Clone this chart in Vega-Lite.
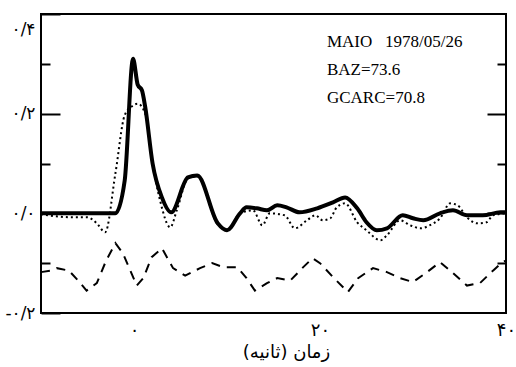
{
  "$schema": "https://vega.github.io/schema/vega-lite/v6.json",
  "width": 465,
  "height": 299,
  "autosize": "none",
  "padding": {"left": 41, "top": 14, "right": 10, "bottom": 54},
  "background": "white",
  "config": {
    "view": {"stroke": "black", "strokeWidth": 2},
    "font": "DejaVu Sans",
    "axis": {"domain": false, "grid": false, "tickColor": "black", "tickWidth": 2, "labelColor": "black", "titleColor": "black"}
  },
  "datasets": {
    "traces": [
      {"s": "solid", "t": -10, "v": 0}, {"s": "solid", "t": -2.0, "v": 0}, {"s": "solid", "t": -1.0, "v": 0.066},
      {"s": "solid", "t": -0.1, "v": 0.31}, {"s": "solid", "t": 0.4, "v": 0.258}, {"s": "solid", "t": 0.85, "v": 0.247},
      {"s": "solid", "t": 1.2, "v": 0.214}, {"s": "solid", "t": 2.0, "v": 0.10}, {"s": "solid", "t": 3.0, "v": 0.032},
      {"s": "solid", "t": 4.0, "v": 0.002}, {"s": "solid", "t": 5.8, "v": 0.072}, {"s": "solid", "t": 6.8, "v": 0.076},
      {"s": "solid", "t": 9.0, "v": -0.02}, {"s": "solid", "t": 10.0, "v": -0.034}, {"s": "solid", "t": 11.4, "v": 0.0},
      {"s": "solid", "t": 12.1, "v": 0.012}, {"s": "solid", "t": 13.2, "v": 0.01}, {"s": "solid", "t": 14.3, "v": 0.006},
      {"s": "solid", "t": 15.4, "v": 0.016}, {"s": "solid", "t": 16.4, "v": 0.012}, {"s": "solid", "t": 17.8, "v": 0.002},
      {"s": "solid", "t": 19.7, "v": 0.01}, {"s": "solid", "t": 21.4, "v": 0.022}, {"s": "solid", "t": 22.7, "v": 0.032},
      {"s": "solid", "t": 24.0, "v": 0.01}, {"s": "solid", "t": 25.0, "v": -0.018}, {"s": "solid", "t": 26.1, "v": -0.034},
      {"s": "solid", "t": 27.2, "v": -0.03}, {"s": "solid", "t": 28.9, "v": -0.004}, {"s": "solid", "t": 30.0, "v": -0.01},
      {"s": "solid", "t": 31.1, "v": -0.014}, {"s": "solid", "t": 32.9, "v": 0.0}, {"s": "solid", "t": 34.3, "v": 0.006},
      {"s": "solid", "t": 35.8, "v": -0.004}, {"s": "solid", "t": 37.5, "v": -0.004}, {"s": "solid", "t": 39.4, "v": 0.002},
      {"s": "solid", "t": 40, "v": 0.002},

      {"s": "dot", "t": -10, "v": -0.002}, {"s": "dot", "t": -6.5, "v": -0.008}, {"s": "dot", "t": -5.0, "v": -0.008},
      {"s": "dot", "t": -4.0, "v": -0.02}, {"s": "dot", "t": -3.1, "v": -0.038}, {"s": "dot", "t": -2.0, "v": 0.08},
      {"s": "dot", "t": -1.0, "v": 0.197}, {"s": "dot", "t": -0.2, "v": 0.215}, {"s": "dot", "t": 0.4, "v": 0.22},
      {"s": "dot", "t": 1.2, "v": 0.2}, {"s": "dot", "t": 2.0, "v": 0.10}, {"s": "dot", "t": 2.8, "v": 0.026},
      {"s": "dot", "t": 3.9, "v": -0.028}, {"s": "dot", "t": 4.6, "v": 0.006}, {"s": "dot", "t": 5.8, "v": 0.07},
      {"s": "dot", "t": 6.8, "v": 0.074}, {"s": "dot", "t": 9.0, "v": -0.022}, {"s": "dot", "t": 10.0, "v": -0.034},
      {"s": "dot", "t": 11.4, "v": 0.0}, {"s": "dot", "t": 12.8, "v": 0.006}, {"s": "dot", "t": 13.8, "v": -0.024},
      {"s": "dot", "t": 14.6, "v": 0.0}, {"s": "dot", "t": 16.2, "v": -0.004}, {"s": "dot", "t": 17.3, "v": -0.03},
      {"s": "dot", "t": 18.6, "v": -0.014}, {"s": "dot", "t": 19.5, "v": -0.004}, {"s": "dot", "t": 20.3, "v": -0.014},
      {"s": "dot", "t": 21.1, "v": -0.01}, {"s": "dot", "t": 21.8, "v": 0.012}, {"s": "dot", "t": 22.7, "v": 0.02},
      {"s": "dot", "t": 24.0, "v": -0.018}, {"s": "dot", "t": 25.0, "v": -0.034}, {"s": "dot", "t": 26.5, "v": -0.054},
      {"s": "dot", "t": 27.2, "v": -0.044}, {"s": "dot", "t": 28.6, "v": -0.014}, {"s": "dot", "t": 29.7, "v": -0.024},
      {"s": "dot", "t": 30.8, "v": -0.03}, {"s": "dot", "t": 31.8, "v": -0.024}, {"s": "dot", "t": 32.9, "v": -0.01},
      {"s": "dot", "t": 34.0, "v": 0.02}, {"s": "dot", "t": 34.8, "v": 0.016}, {"s": "dot", "t": 35.8, "v": -0.008},
      {"s": "dot", "t": 36.9, "v": -0.02}, {"s": "dot", "t": 37.9, "v": -0.018}, {"s": "dot", "t": 38.6, "v": -0.004},
      {"s": "dot", "t": 40, "v": 0.0},

      {"s": "dash", "t": -10, "v": -0.118}, {"s": "dash", "t": -9, "v": -0.115}, {"s": "dash", "t": -8.3, "v": -0.11},
      {"s": "dash", "t": -7.0, "v": -0.115}, {"s": "dash", "t": -6.0, "v": -0.135}, {"s": "dash", "t": -5.1, "v": -0.155},
      {"s": "dash", "t": -4.0, "v": -0.14}, {"s": "dash", "t": -3.0, "v": -0.095}, {"s": "dash", "t": -2.0, "v": -0.06},
      {"s": "dash", "t": -1.2, "v": -0.08}, {"s": "dash", "t": 0.3, "v": -0.145}, {"s": "dash", "t": 1.0, "v": -0.13},
      {"s": "dash", "t": 1.9, "v": -0.088}, {"s": "dash", "t": 3.0, "v": -0.07}, {"s": "dash", "t": 4.2, "v": -0.11},
      {"s": "dash", "t": 5.5, "v": -0.125}, {"s": "dash", "t": 7.1, "v": -0.11}, {"s": "dash", "t": 8.4, "v": -0.1},
      {"s": "dash", "t": 9.6, "v": -0.108}, {"s": "dash", "t": 11.1, "v": -0.108}, {"s": "dash", "t": 12.1, "v": -0.13},
      {"s": "dash", "t": 13.0, "v": -0.155}, {"s": "dash", "t": 14.3, "v": -0.14}, {"s": "dash", "t": 15.4, "v": -0.13},
      {"s": "dash", "t": 16.8, "v": -0.135}, {"s": "dash", "t": 18.2, "v": -0.108}, {"s": "dash", "t": 19.2, "v": -0.09},
      {"s": "dash", "t": 20.0, "v": -0.1}, {"s": "dash", "t": 21.4, "v": -0.128}, {"s": "dash", "t": 23.0, "v": -0.158},
      {"s": "dash", "t": 24.1, "v": -0.13}, {"s": "dash", "t": 25.7, "v": -0.11}, {"s": "dash", "t": 27.2, "v": -0.118},
      {"s": "dash", "t": 28.6, "v": -0.13}, {"s": "dash", "t": 30.0, "v": -0.138}, {"s": "dash", "t": 31.5, "v": -0.118},
      {"s": "dash", "t": 32.9, "v": -0.098}, {"s": "dash", "t": 34.3, "v": -0.12}, {"s": "dash", "t": 35.8, "v": -0.145},
      {"s": "dash", "t": 37.2, "v": -0.14}, {"s": "dash", "t": 38.6, "v": -0.115}, {"s": "dash", "t": 39.6, "v": -0.098},
      {"s": "dash", "t": 40, "v": -0.095}
    ],
    "xticks": [
      {"t": -5, "kind": "minor"}, {"t": 0, "kind": "major"}, {"t": 5, "kind": "minor"}, {"t": 10, "kind": "minor"},
      {"t": 15, "kind": "minor"}, {"t": 20, "kind": "major"}, {"t": 25, "kind": "minor"}, {"t": 30, "kind": "minor"},
      {"t": 35, "kind": "minor"}
    ],
    "note": [{"lines": ["MAIO\u00a0\u00a0\u00a01978/05/26", "BAZ=73.6", "GCARC=70.8"]}]
  },
  "layer": [
    {
      "data": {"name": "traces"},
      "encoding": {
        "x": {
          "field": "t", "type": "quantitative",
          "scale": {"domain": [-10, 40], "nice": false, "zero": false},
          "axis": {
            "orient": "bottom",
            "values": [0, 20, 40],
            "ticks": false,
            "labelPadding": 8,
            "labelFlush": false,
            "labelOverlap": false,
            "labelFontSize": 18,
            "labelExpr": "round(datum.value) === 0 ? '۰' : round(datum.value) === 20 ? '۲۰' : '۴۰'",
            "title": "زمان (ثانیه)",
            "titleFontSize": 18,
            "titleFontWeight": "normal",
            "titleBaseline": "middle",
            "titleY": 39,
            "titleX": 245
          }
        },
        "y": {
          "field": "v", "type": "quantitative",
          "scale": {"domain": [-0.2, 0.4], "nice": false, "zero": false},
          "axis": {
            "orient": "left",
            "values": [-0.2, -0.1, 0, 0.1, 0.2, 0.3, 0.4],
            "tickSize": {"condition": {"test": "abs(round(datum.value * 10)) % 2 === 0", "value": -19}, "value": -9},
            "labelPadding": 25,
            "labelFontSize": 17,
            "labelOverlap": false,
            "labelOffset": {"condition": {"test": "datum.value > 0.35", "value": 15}, "value": 0},
            "labelExpr": "round(datum.value * 10) === 4 ? '۰/۴' : round(datum.value * 10) === 2 ? '۰/۲' : round(datum.value * 10) === 0 ? '۰/۰' : round(datum.value * 10) === -2 ? '-۰/۲' : ''",
            "title": null
          }
        }
      },
      "layer": [
        {"transform": [{"filter": "datum.s === 'dash'"}], "mark": {"type": "line", "color": "black", "strokeWidth": 2, "strokeDash": [9, 7]}},
        {"transform": [{"filter": "datum.s === 'dot'"}], "mark": {"type": "line", "color": "black", "strokeWidth": 2, "strokeDash": [2, 3], "interpolate": "monotone"}},
        {"transform": [{"filter": "datum.s === 'solid'"}], "mark": {"type": "line", "color": "black", "strokeWidth": 4, "strokeJoin": "round", "interpolate": "monotone"}},
        {
          "data": {"name": "xticks"},
          "transform": [{"filter": "datum.kind === 'major'"}],
          "mark": {"type": "rule", "color": "black", "strokeWidth": 2},
          "encoding": {"y": {"datum": -0.2}, "y2": {"datum": -0.16}}
        },
        {
          "data": {"name": "xticks"},
          "transform": [{"filter": "datum.kind === 'minor'"}],
          "mark": {"type": "rule", "color": "black", "strokeWidth": 2},
          "encoding": {"y": {"datum": -0.2}, "y2": {"datum": -0.18}}
        },
        {
          "data": {"name": "xticks"},
          "transform": [{"filter": "datum.kind === 'major'"}],
          "mark": {"type": "rule", "color": "black", "strokeWidth": 2},
          "encoding": {"y": {"datum": 0.4}, "y2": {"datum": 0.366}}
        },
        {
          "data": {"name": "xticks"},
          "transform": [{"filter": "datum.kind === 'minor'"}],
          "mark": {"type": "rule", "color": "black", "strokeWidth": 2},
          "encoding": {"y": {"datum": 0.4}, "y2": {"datum": 0.38}}
        }
      ]
    },
    {
      "data": {"name": "note"},
      "mark": {"type": "text", "align": "left", "baseline": "alphabetic", "font": "Liberation Serif", "fontSize": 17, "lineHeight": 28, "color": "black"},
      "encoding": {
        "text": {"field": "lines"},
        "x": {"datum": 20.75, "type": "quantitative", "axis": null},
        "y": {
          "datum": 0.334, "type": "quantitative",
          "axis": {
            "orient": "right",
            "values": [-0.1, 0, 0.1, 0.2, 0.3],
            "tickSize": {"condition": {"test": "abs(round(datum.value * 10)) % 2 === 0", "value": -19}, "value": -9},
            "labels": false, "title": null
          }
        }
      }
    }
  ],
  "resolve": {"axis": {"x": "independent", "y": "independent"}}
}
